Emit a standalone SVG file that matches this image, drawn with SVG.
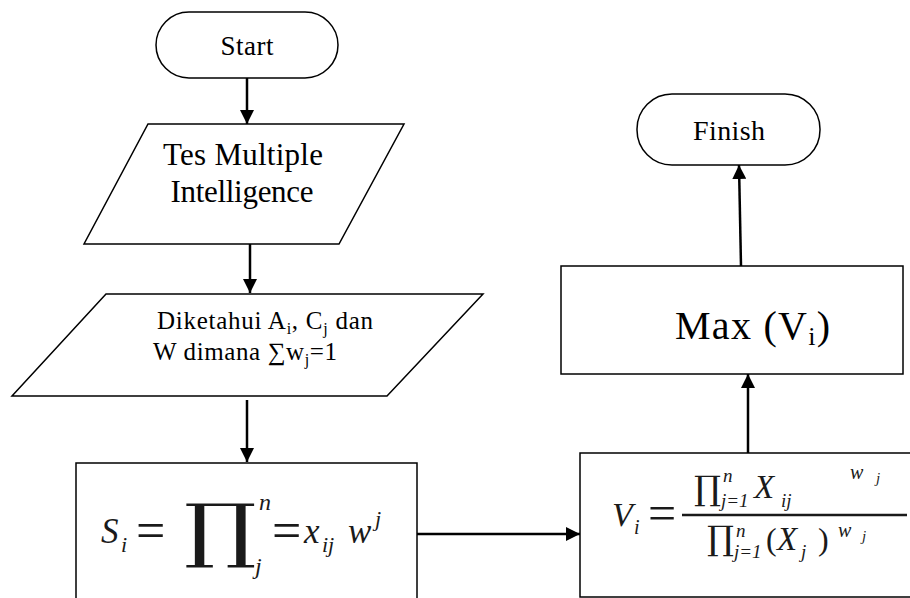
<svg xmlns="http://www.w3.org/2000/svg" width="910" height="598" viewBox="0 0 910 598">
<defs>
<marker id="ah" viewBox="0 0 10 10" refX="10" refY="5" markerWidth="14" markerHeight="14" markerUnits="userSpaceOnUse" orient="auto">
<path d="M0,0 L10,5 L0,10 z" fill="#000"/>
</marker>
</defs>
<rect width="910" height="598" fill="#fff"/>
<g id="connectors" fill="none" stroke="#000" stroke-width="2.5">
<path d="M247,78 L247,124" marker-end="url(#ah)"/>
<path d="M250,244 L250,293" marker-end="url(#ah)"/>
<path d="M247,400 L247,462" marker-end="url(#ah)"/>
<path d="M417,534 L580,534" marker-end="url(#ah)"/>
<path d="M748,453 L748,374" marker-end="url(#ah)"/>
<path d="M741,266 L739,165" marker-end="url(#ah)"/>
</g>
<g id="start">
<rect x="156" y="12" width="182" height="66" rx="33" fill="#fff" stroke="#000" stroke-width="1.5"/>
<text x="247" y="55" font-size="27" text-anchor="middle" textLength="53" font-family="Liberation Serif" style="font-family:'Liberation Serif',serif">Start</text>
</g>
<g id="input-tes">
<polygon points="148,124 404,124 339,244 84,244" fill="#fff" stroke="#000" stroke-width="1.5"/>
<text x="243" y="165" font-size="31" text-anchor="middle" textLength="160" font-family="Liberation Serif" style="font-family:'Liberation Serif',serif">Tes Multiple</text>
<text x="242" y="202" font-size="31" text-anchor="middle" textLength="143" font-family="Liberation Serif" style="font-family:'Liberation Serif',serif">Intelligence</text>
</g>
<g id="input-data">
<polygon points="106,294 483,294 387,396 12,396" fill="#fff" stroke="#000" stroke-width="1.5"/>
<text x="157" y="329" font-size="25" textLength="216" font-family="Liberation Serif" style="font-family:'Liberation Serif',serif">Diketahui A<tspan font-size="16" dy="5">i</tspan><tspan dy="-5">, C</tspan><tspan font-size="16" dy="5">j</tspan><tspan dy="-5"> dan</tspan></text>
<text x="153" y="360" font-size="25" textLength="184" font-family="Liberation Serif" style="font-family:'Liberation Serif',serif">W dimana &#8721;w<tspan font-size="16" dy="5">j</tspan><tspan dy="-5">=1</tspan></text>
</g>
<g id="process-s" fill="#1a1a1a">
<rect x="76" y="463" width="341" height="150" fill="#fff" stroke="#000" stroke-width="1.5"/>
<text x="101" y="543" font-size="35" font-style="italic" style="font-family:'Liberation Serif',serif">S</text>
<text x="121" y="552" font-size="22" font-style="italic" style="font-family:'Liberation Serif',serif">i</text>
<text x="136" y="548" font-size="52" style="font-family:'Liberation Serif',serif">=</text>
<text x="0" y="0" font-size="70" style="font-family:'DejaVu Serif',serif" transform="translate(184,554) scale(1.3,1)">&#8719;</text>
<text x="259" y="510" font-size="24" font-style="italic" style="font-family:'Liberation Serif',serif">n</text>
<text x="255" y="574" font-size="24" font-style="italic" style="font-family:'Liberation Serif',serif">j</text>
<text x="272" y="548" font-size="52" style="font-family:'Liberation Serif',serif">=</text>
<text x="304" y="543" font-size="35" font-style="italic" style="font-family:'Liberation Serif',serif">x</text>
<text x="322" y="552" font-size="22" font-style="italic" style="font-family:'Liberation Serif',serif">ij</text>
<text x="348" y="543" font-size="35" font-style="italic" style="font-family:'Liberation Serif',serif">w</text>
<text x="375" y="526" font-size="22" font-style="italic" style="font-family:'Liberation Serif',serif">j</text>
</g>
<g id="process-v" fill="#1a1a1a">
<rect x="580" y="453" width="340" height="144" fill="#fff" stroke="#000" stroke-width="1.5"/>
<text x="612" y="526" font-size="34" font-style="italic" style="font-family:'Liberation Serif',serif">V</text>
<text x="634" y="534" font-size="20" font-style="italic" style="font-family:'Liberation Serif',serif">i</text>
<text x="648" y="530" font-size="50" style="font-family:'Liberation Serif',serif">=</text>
<line x1="682" y1="515" x2="907" y2="515" stroke="#1a1a1a" stroke-width="2.4"/>
<text x="694" y="500" font-size="34" style="font-family:'DejaVu Serif',serif">&#8719;</text>
<text x="723" y="482" font-size="19" font-style="italic" style="font-family:'Liberation Serif',serif">n</text>
<text x="721" y="507" font-size="19" font-style="italic" style="font-family:'Liberation Serif',serif">j=1</text>
<text x="754" y="498" font-size="33" font-style="italic" style="font-family:'Liberation Serif',serif">X</text>
<text x="781" y="507" font-size="19" font-style="italic" style="font-family:'Liberation Serif',serif">ij</text>
<text x="850" y="479" font-size="20" font-style="italic" style="font-family:'Liberation Serif',serif">w</text>
<text x="876" y="483" font-size="15" font-style="italic" style="font-family:'Liberation Serif',serif">j</text>
<text x="707" y="550" font-size="34" style="font-family:'DejaVu Serif',serif">&#8719;</text>
<text x="736" y="537" font-size="19" font-style="italic" style="font-family:'Liberation Serif',serif">n</text>
<text x="734" y="558" font-size="19" font-style="italic" style="font-family:'Liberation Serif',serif">j=1</text>
<text x="766" y="550" font-size="32" style="font-family:'Liberation Serif',serif">(</text>
<text x="777" y="550" font-size="33" font-style="italic" style="font-family:'Liberation Serif',serif">X</text>
<text x="801" y="558" font-size="19" font-style="italic" style="font-family:'Liberation Serif',serif">j</text>
<text x="818" y="550" font-size="32" style="font-family:'Liberation Serif',serif">)</text>
<text x="838" y="537" font-size="20" font-style="italic" style="font-family:'Liberation Serif',serif">w</text>
<text x="862" y="541" font-size="15" font-style="italic" style="font-family:'Liberation Serif',serif">j</text>
</g>
<g id="max">
<rect x="561" y="266" width="342" height="108" fill="#fff" stroke="#000" stroke-width="1.5"/>
<text x="675" y="339" font-size="40" textLength="155" font-family="Liberation Serif" style="font-family:'Liberation Serif',serif">Max (V<tspan font-size="26" dy="6">i</tspan><tspan dy="-6">)</tspan></text>
</g>
<g id="finish">
<rect x="637" y="94" width="183" height="71" rx="35" fill="#fff" stroke="#000" stroke-width="1.5"/>
<text x="729" y="140" font-size="28" text-anchor="middle" textLength="72" font-family="Liberation Serif" style="font-family:'Liberation Serif',serif">Finish</text>
</g>
</svg>
